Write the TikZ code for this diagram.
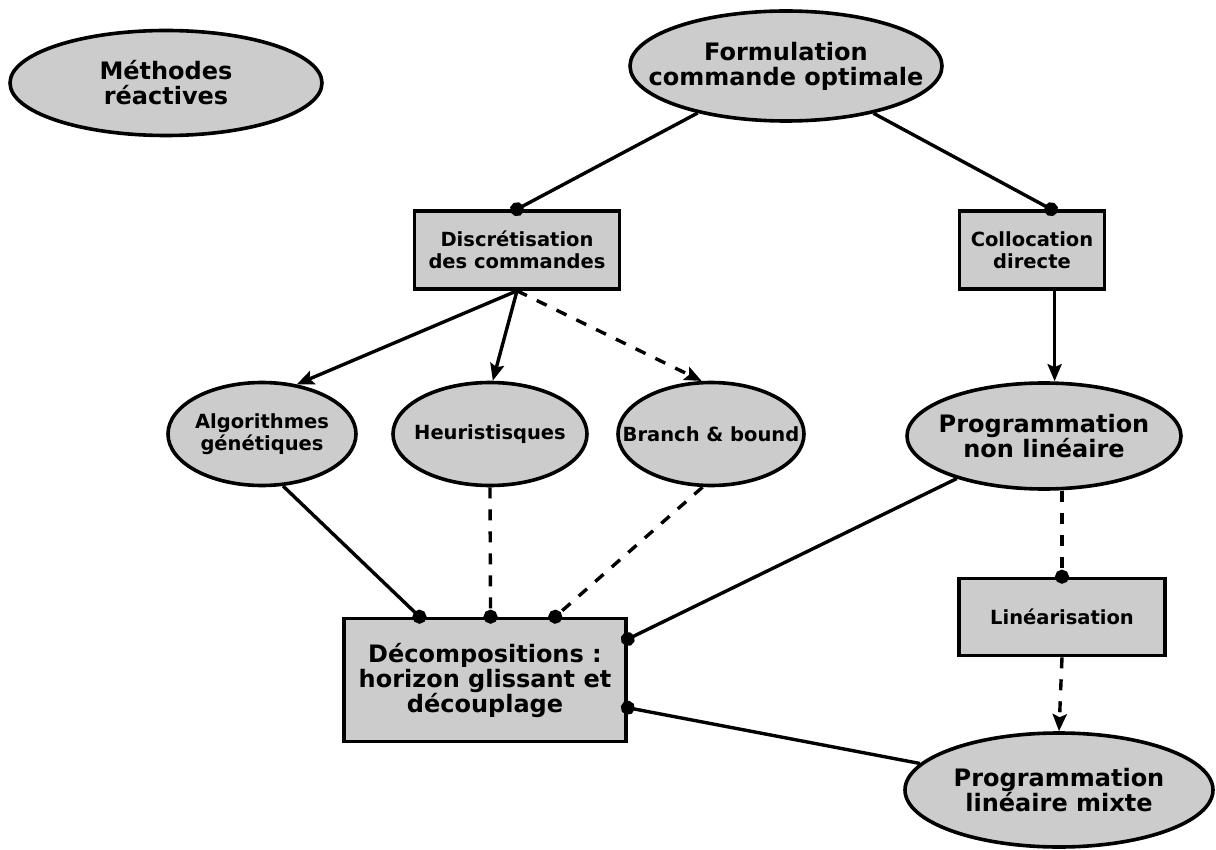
\documentclass[tikz,border=0pt]{standalone}
\usepackage{fontspec}
\setmainfont{DejaVu Sans}
\usepackage{tikz}
\usetikzlibrary{positioning,shapes,arrows.meta,calc}
\definecolor{nodegray}{RGB}{204,204,204}

\begin{document}
\begin{tikzpicture}[x=1pt, y=-1pt,
                every node/.style={fill=nodegray, draw=black, line width=3.6pt, inner sep=0pt, align=center, text=black},
                bigellipse/.style={ellipse, inner xsep=-80pt, inner ysep=-30pt, font=\fontsize{24}{25}\selectfont\bfseries},
                smallellipse/.style={ellipse, inner xsep=-60pt, inner ysep=-25pt, font=\fontsize{19.5}{22}\selectfont\bfseries},
                bigbox/.style={rectangle, font=\fontsize{24}{25}\selectfont\bfseries},
                smallbox/.style={rectangle, font=\fontsize{19.5}{22}\selectfont\bfseries},
                arrow/.style={-{Stealth[length=17pt,width=14pt,inset=3pt]}, line width=3.4pt},
                dashedarrow/.style={arrow, dash pattern=on 11pt off 11pt},
                link/.style={-{Circle[length=14pt]}, shorten >=-7pt, line width=3.4pt},
                dashedlink/.style={link, dash pattern=on 11pt off 11pt}
            ]
                \useasboundingbox (0,0) rectangle (1216,850);

                \node[bigellipse, minimum width=312pt, minimum height=105pt] (reactive) at (166,83) {Méthodes\\réactives};
                \node[bigellipse, minimum width=312pt, minimum height=110pt] (formulation) at (786,66) {Formulation\\commande optimale};

                \node[smallbox, minimum width=205pt, minimum height=78pt] (discret) at (517,250) {Discrétisation\\des commandes};
                \node[smallbox, minimum width=145pt, minimum height=78pt] (colloc) at (1032,250) {Collocation\\directe};

                \node[smallellipse, minimum width=188pt, minimum height=103pt] (genetic) at (262,434) {Algorithmes\\génétiques};
                \node[smallellipse, minimum width=194pt, minimum height=103pt] (heuristic) at (490,434) {Heuristisques};
                \node[smallellipse, minimum width=186pt, minimum height=103pt] (branch) at (711,434) {Branch \& bound};
                \node[bigellipse, minimum width=274pt, minimum height=106pt] (nonlinear) at (1044,436) {Programmation\\non linéaire};

                \node[smallbox, minimum width=206pt, minimum height=77pt] (linearis) at (1062,617) {Linéarisation};
                \node[bigbox, minimum width=282pt, minimum height=123pt] (decomp) at (485,680) {Décompositions :\\horizon glissant et\\découplage};
                \node[bigellipse, minimum width=308pt, minimum height=114pt] (mixed) at (1059,790) {Programmation\\linéaire mixte};

                \draw[link] (formulation) -- (discret.north);
                \draw[link] (formulation) -- (colloc.65);

                \draw[arrow] (discret.south) -- (genetic.55);
                \draw[arrow] (discret.south) -- (heuristic.87);
                \draw[dashedarrow] (discret.south) -- (branch.100);
                \draw[arrow] (colloc.-61) -- (colloc.-61 |- nonlinear.north);

                \draw[link] (genetic.-68) -- (decomp.136);
                \draw[dashedlink] (heuristic.south) -- (decomp.85);
                \draw[dashedlink] (branch.-99) -- (decomp.42);
                \draw[link] (nonlinear) -- (decomp.16);
                \draw[dashedlink] (linearis.north |- nonlinear.south) -- (linearis.north);
                \draw[dashedarrow] (linearis.south) -- (mixed.north);
                \draw[link] (mixed) -- (decomp.-11);
            \end{tikzpicture}
\end{document}
